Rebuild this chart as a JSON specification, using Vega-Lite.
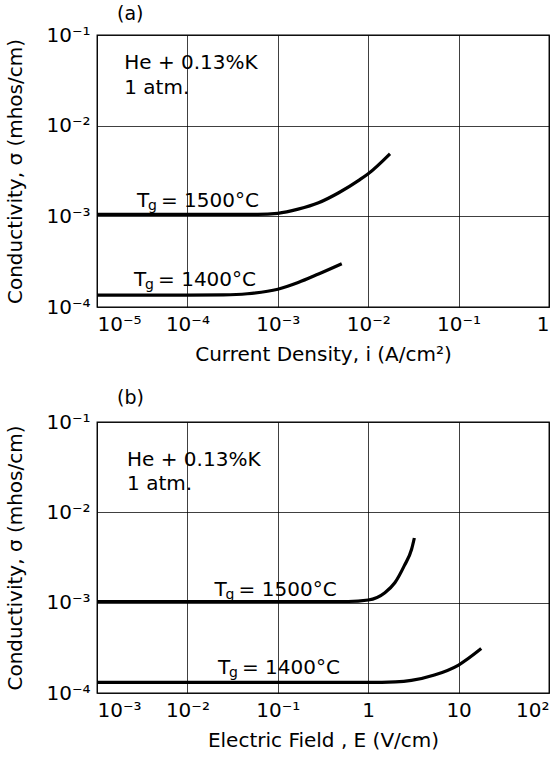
{
  "$schema": "https://vega.github.io/schema/vega-lite/v6.json",
  "background": "white",
  "padding": {"left": 5, "top": 4, "right": 8, "bottom": 0},
  "spacing": 23,
  "config": {
    "font": "DejaVu Sans",
    "view": {"stroke": "black", "strokeWidth": 1.3},
    "axis": {
      "grid": true, "gridColor": "black", "gridOpacity": 0.75, "gridWidth": 1,
      "domain": false, "ticks": false, "labelFont": "DejaVu Sans", "labelFontSize": 20,
      "labelColor": "black", "titleFont": "DejaVu Sans", "titleFontSize": 20,
      "titleFontWeight": "normal", "titleColor": "black", "labelPadding": 7
    },
    "title": {"font": "DejaVu Sans", "fontSize": 19, "fontWeight": "normal", "anchor": "start", "frame": "group", "color": "black"}
  },
  "datasets": {
    "curvesA": [
      {"s": "1500", "x": 0.00001, "y": 0.00105},
      {"s": "1500", "x": 0.0001, "y": 0.00105},
      {"s": "1500", "x": 0.0006, "y": 0.00105},
      {"s": "1500", "x": 0.001, "y": 0.00108},
      {"s": "1500", "x": 0.00168, "y": 0.0012},
      {"s": "1500", "x": 0.00282, "y": 0.00141},
      {"s": "1500", "x": 0.00472, "y": 0.00182},
      {"s": "1500", "x": 0.00794, "y": 0.00251},
      {"s": "1500", "x": 0.01, "y": 0.00295},
      {"s": "1500", "x": 0.0174, "y": 0.0049},
      {"s": "1400", "x": 0.00001, "y": 0.000135},
      {"s": "1400", "x": 0.0001, "y": 0.000135},
      {"s": "1400", "x": 0.00025, "y": 0.000136},
      {"s": "1400", "x": 0.00046, "y": 0.00014},
      {"s": "1400", "x": 0.001, "y": 0.000157},
      {"s": "1400", "x": 0.00168, "y": 0.000186},
      {"s": "1400", "x": 0.00282, "y": 0.000231},
      {"s": "1400", "x": 0.0051, "y": 0.0003}
    ],
    "notesA": [
      {"x": 0.00002, "y": 0.049, "t": "He + 0.13%K"},
      {"x": 0.00002, "y": 0.0257, "t": "1 atm."}
    ],
    "tgA": [
      {"x": 0.0000277, "y": 0.00148, "t": "= 1500°C"},
      {"x": 0.0000257, "y": 0.0002, "t": "= 1400°C"}
    ],
    "curvesB": [
      {"s": "1500", "x": 0.001, "y": 0.00103},
      {"s": "1500", "x": 0.01, "y": 0.00103},
      {"s": "1500", "x": 0.1, "y": 0.00103},
      {"s": "1500", "x": 0.6, "y": 0.00103},
      {"s": "1500", "x": 1, "y": 0.00107},
      {"s": "1500", "x": 1.53, "y": 0.00129},
      {"s": "1500", "x": 1.97, "y": 0.00166},
      {"s": "1500", "x": 2.51, "y": 0.00257},
      {"s": "1500", "x": 3.02, "y": 0.0039},
      {"s": "1500", "x": 3.24, "y": 0.0052},
      {"s": "1400", "x": 0.001, "y": 0.000131},
      {"s": "1400", "x": 0.1, "y": 0.000131},
      {"s": "1400", "x": 1, "y": 0.000131},
      {"s": "1400", "x": 2, "y": 0.000133},
      {"s": "1400", "x": 3, "y": 0.000138},
      {"s": "1400", "x": 5.4, "y": 0.000158},
      {"s": "1400", "x": 10, "y": 0.000204},
      {"s": "1400", "x": 17.8, "y": 0.00031}
    ],
    "notesB": [
      {"x": 0.00215, "y": 0.038, "t": "He + 0.13%K"},
      {"x": 0.00215, "y": 0.0204, "t": "1 atm."}
    ],
    "tgB": [
      {"x": 0.02, "y": 0.00138, "t": "= 1500°C"},
      {"x": 0.0218, "y": 0.00019, "t": "= 1400°C"}
    ]
  },
  "vconcat": [
    {
      "width": 452,
      "height": 272,
      "title": {"text": "(a)", "dx": 20, "offset": 1},
      "layer": [
        {
          "data": {"name": "curvesA"},
          "mark": {"type": "line", "color": "black", "strokeWidth": 3.2, "interpolate": "monotone"},
          "encoding": {
            "x": {"field": "x", "type": "quantitative",
              "scale": {"type": "log", "domain": [0.00001, 1], "nice": false},
              "axis": {"values": [0.00001, 0.0001, 0.001, 0.01, 0.1, 1],
                "labelExpr": "datum.value > 0.5 ? '1' : datum.value > 0.05 ? '10⁻¹' : datum.value > 0.005 ? '10⁻²' : datum.value > 0.0005 ? '10⁻³' : datum.value > 0.00005 ? '10⁻⁴' : '10⁻⁵'",
                "title": "Current Density, i (A/cm²)", "titlePadding": 10}},
            "y": {"field": "y", "type": "quantitative",
              "scale": {"type": "log", "domain": [0.0001, 0.1], "nice": false},
              "axis": {"values": [0.0001, 0.001, 0.01, 0.1],
                "labelExpr": "datum.value > 0.05 ? '10⁻¹' : datum.value > 0.005 ? '10⁻²' : datum.value > 0.0005 ? '10⁻³' : '10⁻⁴'",
                "title": "Conductivity, σ (mhos/cm)", "titlePadding": 20}},
            "detail": {"field": "s"}
          }
        },
        {
          "data": {"name": "notesA"},
          "mark": {"type": "text", "align": "left", "baseline": "middle", "fontSize": 20, "color": "black"},
          "encoding": {
            "x": {"field": "x", "type": "quantitative"},
            "y": {"field": "y", "type": "quantitative"},
            "text": {"field": "t"}
          }
        },
        {
          "data": {"name": "tgA"},
          "mark": {"type": "text", "align": "left", "baseline": "middle", "fontSize": 20, "color": "black", "text": "T"},
          "encoding": {
            "x": {"field": "x", "type": "quantitative"},
            "y": {"field": "y", "type": "quantitative"}
          }
        },
        {
          "data": {"name": "tgA"},
          "mark": {"type": "text", "align": "left", "baseline": "middle", "fontSize": 14, "color": "black", "text": "g", "dx": 11, "dy": 5},
          "encoding": {
            "x": {"field": "x", "type": "quantitative"},
            "y": {"field": "y", "type": "quantitative"}
          }
        },
        {
          "data": {"name": "tgA"},
          "mark": {"type": "text", "align": "left", "baseline": "middle", "fontSize": 20, "color": "black", "dx": 24},
          "encoding": {
            "x": {"field": "x", "type": "quantitative"},
            "y": {"field": "y", "type": "quantitative"},
            "text": {"field": "t"}
          }
        }
      ]
    },
    {
      "width": 452,
      "height": 271,
      "title": {"text": "(b)", "dx": 20, "offset": 4},
      "layer": [
        {
          "data": {"name": "curvesB"},
          "mark": {"type": "line", "color": "black", "strokeWidth": 3.2, "interpolate": "monotone"},
          "encoding": {
            "x": {"field": "x", "type": "quantitative",
              "scale": {"type": "log", "domain": [0.001, 100], "nice": false},
              "axis": {"values": [0.001, 0.01, 0.1, 1, 10, 100],
                "labelExpr": "datum.value > 50 ? '10²' : datum.value > 5 ? '10' : datum.value > 0.5 ? '1' : datum.value > 0.05 ? '10⁻¹' : datum.value > 0.005 ? '10⁻²' : '10⁻³'",
                "title": "Electric Field , E (V/cm)", "titlePadding": 10}},
            "y": {"field": "y", "type": "quantitative",
              "scale": {"type": "log", "domain": [0.0001, 0.1], "nice": false},
              "axis": {"values": [0.0001, 0.001, 0.01, 0.1],
                "labelExpr": "datum.value > 0.05 ? '10⁻¹' : datum.value > 0.005 ? '10⁻²' : datum.value > 0.0005 ? '10⁻³' : '10⁻⁴'",
                "title": "Conductivity, σ (mhos/cm)", "titlePadding": 20}},
            "detail": {"field": "s"}
          }
        },
        {
          "data": {"name": "notesB"},
          "mark": {"type": "text", "align": "left", "baseline": "middle", "fontSize": 20, "color": "black"},
          "encoding": {
            "x": {"field": "x", "type": "quantitative"},
            "y": {"field": "y", "type": "quantitative"},
            "text": {"field": "t"}
          }
        },
        {
          "data": {"name": "tgB"},
          "mark": {"type": "text", "align": "left", "baseline": "middle", "fontSize": 20, "color": "black", "text": "T"},
          "encoding": {
            "x": {"field": "x", "type": "quantitative"},
            "y": {"field": "y", "type": "quantitative"}
          }
        },
        {
          "data": {"name": "tgB"},
          "mark": {"type": "text", "align": "left", "baseline": "middle", "fontSize": 14, "color": "black", "text": "g", "dx": 11, "dy": 5},
          "encoding": {
            "x": {"field": "x", "type": "quantitative"},
            "y": {"field": "y", "type": "quantitative"}
          }
        },
        {
          "data": {"name": "tgB"},
          "mark": {"type": "text", "align": "left", "baseline": "middle", "fontSize": 20, "color": "black", "dx": 24},
          "encoding": {
            "x": {"field": "x", "type": "quantitative"},
            "y": {"field": "y", "type": "quantitative"},
            "text": {"field": "t"}
          }
        }
      ]
    }
  ]
}
